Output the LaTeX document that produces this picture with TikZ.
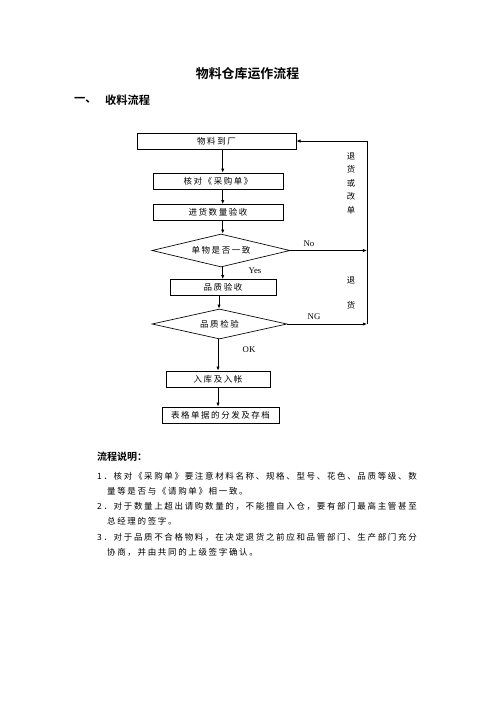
\documentclass[tikz,border=0pt]{standalone}
\usepackage{fontspec}
\setmainfont{Liberation Serif}
\newfontfamily\cjk{Noto Sans CJK SC}[BoldFont={Noto Sans CJK SC Bold}]
\usetikzlibrary{arrows.meta,shapes.geometric}
\begin{document}
\begin{tikzpicture}[x=1.2pt,y=-1.2pt,
  txt/.style={font=\cjk\fontsize{10.2}{12}\selectfont\addfontfeature{LetterSpace=18}},
  flowbox/.style={draw,line width=0.8pt,inner sep=0pt,minimum height=19.2pt,txt},
  decide/.style={draw,diamond,line width=0.8pt,inner sep=0pt,aspect=4.2,txt},
  lab/.style={font=\fontsize{10.5}{12}\selectfont,inner sep=0pt},
  arr/.style={line width=0.9pt,-{Latex[length=5pt,width=4pt]}},
  ln/.style={line width=0.9pt},
  body/.style={font=\cjk\fontsize{10.2}{12}\selectfont\addfontfeature{LetterSpace=19.5},anchor=west,inner sep=0pt}]
\useasboundingbox (0,0) rectangle (496,702);
% titles
\node[font=\cjk\bfseries\fontsize{15.5}{18}\selectfont] (title) at (247.5,74) {物料仓库运作流程};
\node[font=\cjk\bfseries\fontsize{13.5}{16}\selectfont,anchor=west,inner sep=0pt] (sec) at (74,100) {一、};
\node[font=\cjk\bfseries\fontsize{13.5}{16}\selectfont,anchor=west,inner sep=0pt] (secname) at (105,100) {收料流程};
% flowchart
\node[flowbox,minimum width=190.8pt] (b1) at (216.5,141) {物料到厂};
\node[flowbox,minimum width=156pt] (b2) at (218,181) {核对《采购单》};
\node[flowbox,minimum width=156pt] (b3) at (218,212.5) {进货数量验收};
\node[decide,minimum width=165.6pt,minimum height=39.6pt] (d1) at (221,250.5) {单物是否一致};
\node[flowbox,minimum width=127.2pt] (b4) at (223,287.5) {品质验收};
\node[decide,aspect=4.5,minimum width=162pt,minimum height=36pt] (d2) at (219.5,324) {品质检验};
\node[flowbox,minimum width=124.8pt] (b5) at (218,379) {入库及入帐};
\node[flowbox,minimum width=140.4pt] (b6) at (220.5,415) {表格单据的分发及存档};
\coordinate (xa) at (222.7,0);
\coordinate (xb) at (219,0);
\coordinate (xc) at (218,0);
\coordinate (r) at (367,141);
\draw[arr] (b1.south -| xa) -- (b2.north -| xa);
\draw[arr] (b2.south -| xa) -- (b3.north -| xa);
\draw[arr] (b3.south -| xa) -- (d1.north -| xa);
\draw[arr] (d1.south -| xa) -- (b4.north -| xa);
\draw[arr] (b4.south -| xb) -- (d2.north -| xb);
\draw[arr] (d2.south -| xc) -- (b5.north -| xc);
\draw[arr] (b5.south -| xc) -- (b6.north -| xc);
\draw[arr] (d1.east) -- (d1.east -| r);
\draw[arr] (d2.east) -- (d2.east -| r);
\draw[ln] (d2.east -| r) -- (r);
\draw[arr] (r) -- (b1.east);
% labels
\node[lab] (no) at (309,244) {No};
\node[lab] (yes) at (255,271) {Yes};
\node[lab] (ng) at (314,317) {NG};
\node[lab] (ok) at (249,350) {OK};
\node[align=center,inner sep=0pt,font=\cjk\fontsize{10}{16.2}\selectfont] (ret1) at (351,183) {退\\货\\或\\改\\单};
\node[inner sep=0pt,font=\cjk\fontsize{10}{12}\selectfont] (ret2) at (351,280) {退};
\node[inner sep=0pt,font=\cjk\fontsize{10}{12}\selectfont] (ret3) at (351,305) {货};
% explanation
\node[font=\cjk\bfseries\fontsize{12}{14}\selectfont,anchor=west,inner sep=0pt] (expl) at (97,457) {流程说明：};
\node[body] (l1) at (97,476) {1．核对《采购单》要注意材料名称、规格、型号、花色、品质等级、数};
\node[body] (l2) at (107,491) {量等是否与《请购单》相一致。};
\node[body] (l3) at (97,506) {2．对于数量上超出请购数量的，不能擅自入仓，要有部门最高主管甚至};
\node[body] (l4) at (107,521) {总经理的签字。};
\node[body] (l5) at (97,537) {3．对于品质不合格物料，在决定退货之前应和品管部门、生产部门充分};
\node[body] (l6) at (107,552) {协商，并由共同的上级签字确认。};
\end{tikzpicture}
\end{document}
